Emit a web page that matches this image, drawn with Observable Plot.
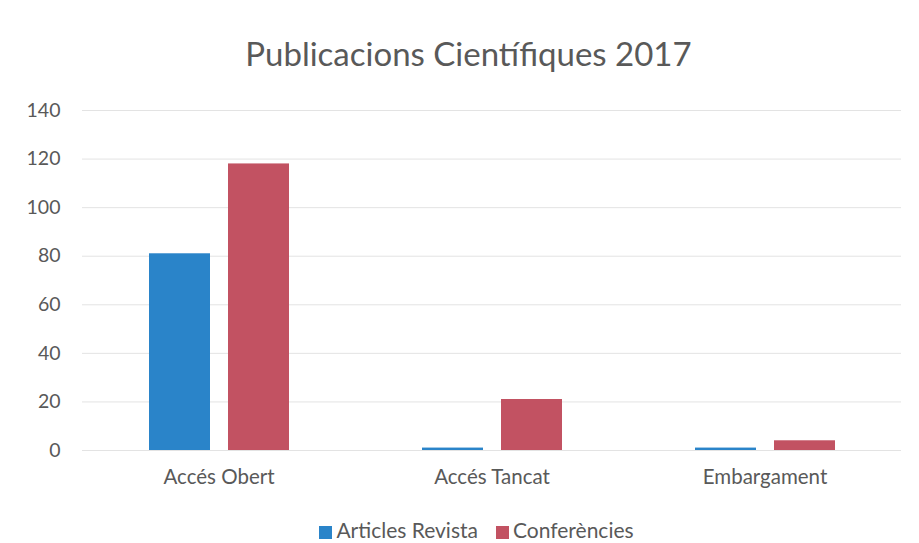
<!DOCTYPE html>
<html>
<head>
<meta charset="utf-8">
<script src="https://cdn.jsdelivr.net/npm/d3@7"></script>
<script src="https://cdn.jsdelivr.net/npm/@observablehq/plot@0.6"></script>
<style>
  html, body { margin: 0; padding: 0; background: #fff; }
  body { width: 919px; height: 543px; overflow: hidden; font-family: Lato, "Open Sans", sans-serif; color: #595959; }
  #title { height: 90px; line-height: 1; box-sizing: border-box; padding-top: 37px; text-align: center; font-size: 33px; color: #595959; padding-left: 18px; }
  #legend { display: flex; justify-content: center; align-items: center; gap: 18px; font-size: 21px; color: #595959; margin-top: 17px; padding-left: 34px; }
  #legend span.sw { display: inline-block; width: 13px; height: 13px; margin-right: 4px; vertical-align: -1px; }
  svg g[aria-label="fx-axis tick label"] text { font-size: 20.5px; }
</style>
</head>
<body>
<div id="title">Publicacions Científiques 2017</div>
<div id="chart"></div>
<div id="legend"></div>
<script>
const categories = ["Accés Obert", "Accés Tancat", "Embargament"];
const seriesNames = ["Articles Revista", "Conferències"];
const articlesRevista = [81, 1, 1];
const conferencies = [118, 21, 4];
const yTicks = [0, 20, 40, 60, 80, 100, 120, 140];
const colors = ["#2a84c9", "#c25262"];

const data = [];
categories.forEach((c, i) => {
  data.push({category: c, series: seriesNames[0], value: articlesRevista[i]});
  data.push({category: c, series: seriesNames[1], value: conferencies[i]});
});

const chart = Plot.plot({
  width: 919,
  height: 410,
  marginTop: 20,
  marginBottom: 50,
  marginLeft: 81,
  marginRight: 17,
  style: {fontFamily: "Lato, 'Open Sans', sans-serif", fontSize: "19.5px", color: "#595959", background: "#fff"},
  fx: {domain: categories, padding: 0, label: null, tickSize: 0, tickPadding: 19},
  x: {domain: seriesNames, paddingInner: 0.23, paddingOuter: 0, insetLeft: 67, insetRight: 66, axis: null},
  y: {domain: [0, 140], ticks: yTicks, label: null, tickSize: 0, tickPadding: 22},
  color: {domain: seriesNames, range: colors},
  marks: [
    Plot.gridY(yTicks, {stroke: "#e3e3e3", strokeOpacity: 1}),
    Plot.barY(data, {fx: "category", x: "series", y: "value", fill: "series"})
  ]
});
chart.querySelectorAll("text").forEach(t => t.setAttribute("fill", "#595959"));
document.getElementById("chart").appendChild(chart);

const legend = document.getElementById("legend");
seriesNames.forEach((s, i) => {
  const item = document.createElement("div");
  const sw = document.createElement("span");
  sw.className = "sw";
  sw.style.background = colors[i];
  item.appendChild(sw);
  item.appendChild(document.createTextNode(s));
  legend.appendChild(item);
});
</script>
</body>
</html>
